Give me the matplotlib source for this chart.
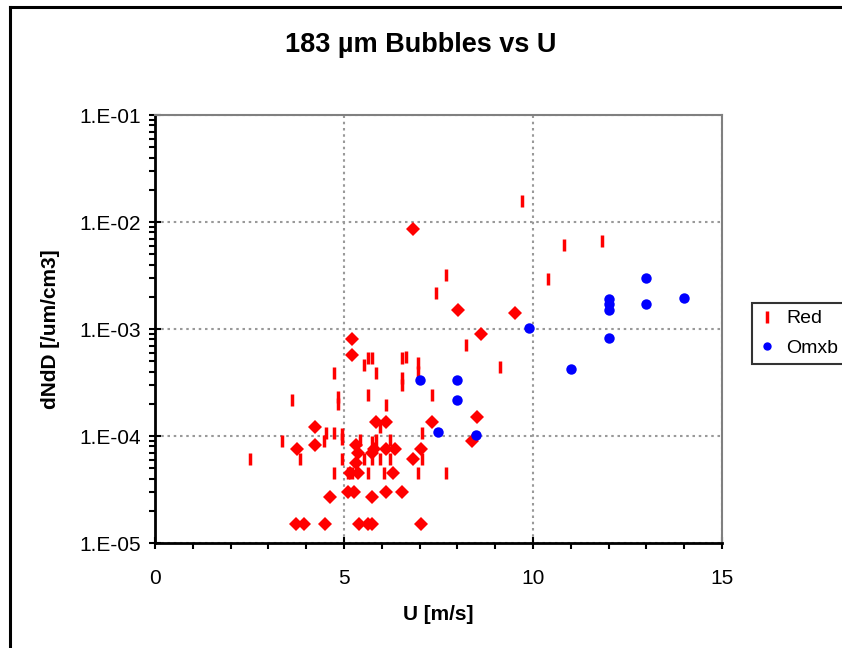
import matplotlib
matplotlib.use('Agg')
import matplotlib.pyplot as plt
from matplotlib.lines import Line2D
from matplotlib.ticker import LogLocator, FixedLocator, NullFormatter

plt.rcParams['font.family'] = ['Liberation Sans', 'DejaVu Sans']

# Red series, dash markers
red_dash_u = [7.44, 5.63, 5.74, 5.53, 6.54, 6.65, 6.95, 6.95, 4.74, 5.84,
              6.54, 6.54, 3.63, 4.85, 4.85, 5.64, 6.12, 7.33, 5.96, 4.53,
              4.74, 4.94, 4.94, 3.36, 4.47, 5.43, 5.84, 6.22, 5.75, 7.07,
              2.52, 3.84, 4.95, 5.53, 5.75, 5.96, 6.22, 7.07, 4.74, 5.11,
              5.22, 5.64, 6.06, 6.96, 7.70, 9.71, 10.83, 11.83, 7.70, 10.40,
              8.23, 9.13]
red_dash_n = [2.18e-3, 5.4e-4, 5.4e-4, 4.6e-4, 5.4e-4, 5.5e-4, 4.0e-4, 4.8e-4, 3.9e-4, 3.9e-4,
              3.0e-4, 3.45e-4, 2.15e-4, 2.0e-4, 2.3e-4, 2.43e-4, 1.95e-4, 2.43e-4, 1.22e-4, 1.07e-4,
              1.07e-4, 9.3e-5, 1.05e-4, 9.0e-5, 9.0e-5, 9.2e-5, 9.2e-5, 9.2e-5, 8.8e-5, 1.07e-4,
              6.1e-5, 6.1e-5, 6.1e-5, 6.1e-5, 6.1e-5, 6.1e-5, 6.1e-5, 6.1e-5, 4.5e-5, 4.5e-5,
              4.5e-5, 4.5e-5, 4.5e-5, 4.5e-5, 4.5e-5, 1.58e-2, 6.1e-3, 6.6e-3, 3.2e-3, 2.93e-3,
              7.1e-4, 4.45e-4]

# Red series, diamond markers (stacked points)
red_dia_u = [6.82, 8.01, 9.52, 8.63, 5.22, 5.22, 4.24, 5.84, 6.10, 7.32,
             8.53, 4.24, 3.75, 5.32, 5.38, 5.80, 5.75, 6.10, 6.36, 7.05,
             8.40, 6.82, 5.32, 5.16, 5.38, 6.31, 5.11, 5.27, 4.62, 5.73,
             6.10, 6.54, 3.72, 3.93, 4.51, 5.41, 5.64, 5.75, 7.05]
red_dia_n = [8.6e-3, 1.49e-3, 1.41e-3, 9.0e-4, 8.1e-4, 5.7e-4, 1.22e-4, 1.35e-4, 1.35e-4, 1.35e-4,
             1.5e-4, 8.3e-5, 7.5e-5, 8.3e-5, 6.9e-5, 7.5e-5, 6.9e-5, 7.5e-5, 7.5e-5, 7.5e-5,
             9.0e-5, 6.1e-5, 5.6e-5, 4.5e-5, 4.5e-5, 4.5e-5, 3.0e-5, 3.0e-5, 2.7e-5, 2.7e-5,
             3.0e-5, 3.0e-5, 1.5e-5, 1.5e-5, 1.5e-5, 1.5e-5, 1.5e-5, 1.5e-5, 1.5e-5]

# Omxb series
omxb_u = [7.0, 8.0, 8.0, 7.5, 8.5, 9.9, 11.0, 12.0, 12.0, 12.0, 12.0, 13.0, 13.0, 14.0]
omxb_n = [3.36e-4, 3.36e-4, 2.18e-4, 1.1e-4, 1.02e-4, 1.03e-3, 4.2e-4,
          1.9e-3, 1.73e-3, 1.51e-3, 8.3e-4, 3.0e-3, 1.73e-3, 1.96e-3]

fig = plt.figure(figsize=(8.42, 6.48), dpi=100)
ax = fig.add_axes([0.184, 0.162, 0.6735, 0.6605])

ax.plot(red_dash_u, red_dash_n, ls='none', marker='|', ms=8, mew=2.5, color='red', zorder=3)
ax.plot(red_dia_u, red_dia_n, ls='none', marker='D', ms=7, mew=0, color='red', zorder=3)
ax.plot(omxb_u, omxb_n, ls='none', marker='o', ms=7.5, mew=0, color='blue', zorder=4)

ax.set_yscale('log')
ax.set_xlim(0, 15)
ax.set_ylim(1e-5, 1e-1)
ax.set_xticks([0, 5, 10, 15])
ax.xaxis.set_minor_locator(FixedLocator(range(0, 16)))
ax.yaxis.set_minor_locator(LogLocator(base=10, subs=range(2, 10), numticks=10))
ax.yaxis.set_minor_formatter(NullFormatter())
ax.set_yticks([1e-5, 1e-4, 1e-3, 1e-2, 1e-1])
ax.set_yticklabels(['1.E-05', '1.E-04', '1.E-03', '1.E-02', '1.E-01'])

ax.tick_params(axis='both', which='major', labelsize=15, length=8, width=1.5,
               direction='inout', color='black', pad=6)
ax.tick_params(axis='both', which='minor', length=4, width=1.5, direction='out')
ax.tick_params(axis='x', which='major', pad=15)

ax.grid(True, which='major', color='#999999', ls=(0, (1.2, 1.8)), lw=1.5)
ax.set_axisbelow(True)

for side in ['top', 'right']:
    ax.spines[side].set_color('#808080')
    ax.spines[side].set_linewidth(1.5)
for side in ['left', 'bottom']:
    ax.spines[side].set_color('black')
    ax.spines[side].set_linewidth(2)

ax.set_xlabel('U [m/s]', fontsize=15, fontweight='bold', labelpad=12)
ax.set_ylabel('dNdD [/um/cm3]', fontsize=15, fontweight='bold', labelpad=14)
fig.text(0.5, 0.93, '183 µm Bubbles vs U', fontsize=19.5, fontweight='bold',
         ha='center', va='center')

handles = [Line2D([], [], ls='none', marker='|', ms=8, mew=2.5, color='red'),
           Line2D([], [], ls='none', marker='o', ms=6, mew=0, color='blue')]
leg = fig.legend(handles, ['Red', 'Omxb'], loc='upper left',
                 bbox_to_anchor=(752 / 842, 1 - 303 / 648), borderaxespad=0,
                 fontsize=14, frameon=True, fancybox=False, handlelength=0.8,
                 handletextpad=0.6, borderpad=0.35, labelspacing=0.6)
leg.get_frame().set_edgecolor('black')
leg.get_frame().set_linewidth(1.5)

# outer chart frame
fig.add_artist(Line2D([10 / 842, 10 / 842], [0, 1 - 7 / 648], color='black', lw=2.2))
fig.add_artist(Line2D([10 / 842, 1], [1 - 7 / 648, 1 - 7 / 648], color='black', lw=2.2))

fig.savefig('out.png', dpi=100)
